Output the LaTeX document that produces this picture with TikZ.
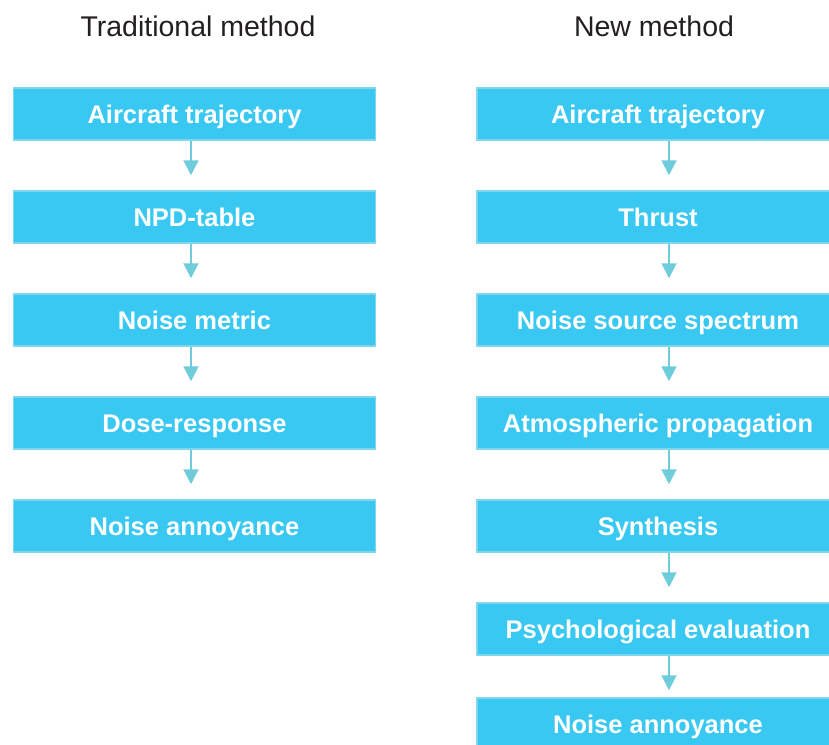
\documentclass[tikz,border=0pt]{standalone}
\usepackage{fontspec}
\setmainfont{Liberation Sans}
\usetikzlibrary{positioning,arrows.meta}
\definecolor{boxfill}{HTML}{38C8F2}
\definecolor{boxline}{HTML}{80D6EA}
\definecolor{flowcol}{HTML}{6ECCDB}
\definecolor{titlecol}{HTML}{231F20}
\begin{document}
\begin{tikzpicture}
        [x=1pt,y=1pt,node distance=49.5pt,
         step box/.style={draw=boxline, line width=1.5pt, fill=boxfill,
           minimum width=362pt, minimum height=52pt, inner sep=0pt,
           text height=18.3pt, text depth=0pt,
           text=white, font=\fontsize{25.5}{30}\selectfont\bfseries},
         heading/.style={anchor=base, text=titlecol,
           font=\fontsize{28.5}{34}\selectfont},
         flow/.style={->, draw=flowcol, line width=2pt,
           >={Triangle[width=15pt,length=15pt]}, shorten >=15pt}]
        \useasboundingbox (0,0) rectangle (829,-744);
        %\draw[help lines] (0,0) grid (829,-744);
        \node[heading] (tl) at (198,-36) {Traditional method};
        \node[heading] (tr) at (654,-36) {New method};
        % traditional
        \node[step box] (l1) at (194.5,-114) {Aircraft trajectory};
        \node[step box, below=of l1] (l2) {NPD-table};
        \node[step box, below=of l2] (l3) {Noise metric};
        \node[step box, below=of l3] (l4) {Dose-response};
        \node[step box, below=of l4] (l5) {Noise annoyance};
        % new
        \node[step box] (r1) at (658,-114) {Aircraft trajectory};
        \node[step box, below=of r1] (r2) {Thrust};
        \node[step box, below=of r2] (r3) {Noise source spectrum};
        \node[step box, below=of r3] (r4) {Atmospheric propagation};
        \node[step box, below=of r4] (r5) {Synthesis};
        \node[step box, below=of r5] (r6) {Psychological evaluation};
        \node[step box, below=41.5pt of r6] (r7) {Noise annoyance};
        \draw[flow] ([xshift=-3.5pt]l1.south) -- ([xshift=-3.5pt]l2.north);
        \draw[flow] ([xshift=-3.5pt]l2.south) -- ([xshift=-3.5pt]l3.north);
        \draw[flow] ([xshift=-3.5pt]l3.south) -- ([xshift=-3.5pt]l4.north);
        \draw[flow] ([xshift=-3.5pt]l4.south) -- ([xshift=-3.5pt]l5.north);
        \draw[flow] ([xshift=11pt]r1.south) -- ([xshift=11pt]r2.north);
        \draw[flow] ([xshift=11pt]r2.south) -- ([xshift=11pt]r3.north);
        \draw[flow] ([xshift=11pt]r3.south) -- ([xshift=11pt]r4.north);
        \draw[flow] ([xshift=11pt]r4.south) -- ([xshift=11pt]r5.north);
        \draw[flow] ([xshift=11pt]r5.south) -- ([xshift=11pt]r6.north);
        \draw[flow, shorten >=7pt] ([xshift=11pt]r6.south) -- ([xshift=11pt]r7.north);
      \end{tikzpicture}
\end{document}
